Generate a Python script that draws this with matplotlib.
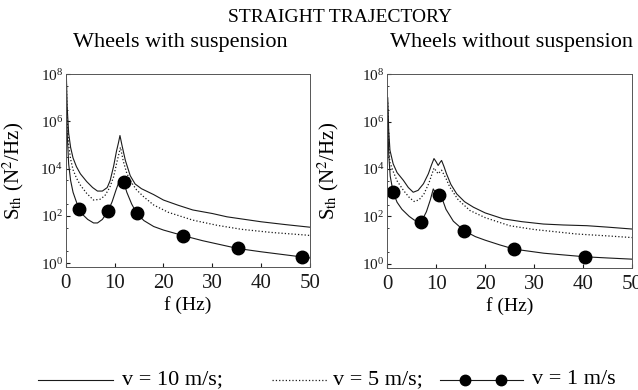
import numpy as np
import matplotlib
matplotlib.use('Agg')
import matplotlib.pyplot as plt
from matplotlib.lines import Line2D

plt.rcParams['font.family'] = ['Liberation Serif', 'DejaVu Serif']
plt.rcParams['mathtext.fontset'] = 'stix'

# ---- 有悬挂 (wheels with suspension), log10(S) 读数
f_l10 = [0.1, 0.3, 0.6, 1.0, 1.5, 2.2, 3.0, 4.3, 5.5, 6.5, 7.5, 8.5, 9.1, 9.8, 10.4, 10.8,
         11.1, 11.5, 12.2, 13.2, 14.2, 15.5, 18, 20, 23, 26, 30, 33, 36, 40, 45, 50]
log_l10 = [8.2, 6.6, 5.5, 4.9, 4.45, 4.08, 3.78, 3.45, 3.2, 3.05, 3.05, 3.2, 3.5, 4.1, 4.75, 5.1,
           5.4, 5.0, 4.35, 3.7, 3.35, 3.15, 2.9, 2.67, 2.45, 2.25, 2.1, 1.96, 1.87, 1.75, 1.63, 1.52]

f_l5 = [0.1, 0.3, 0.6, 1.0, 1.5, 2.2, 3.0, 4.3, 5.7, 7.0, 8.0, 9.0, 9.8, 10.5, 11.2, 11.8,
        12.5, 13.5, 14.5, 16, 18, 21, 26, 31, 36, 42, 49, 50]
log_l5 = [8.0, 6.2, 5.0, 4.4, 3.95, 3.6, 3.3, 2.95, 2.67, 2.7, 2.85, 3.2, 3.65, 4.3, 4.9, 4.3,
          3.8, 3.4, 3.1, 2.8, 2.46, 2.15, 1.82, 1.6, 1.43, 1.3, 1.19, 1.17]

f_l1 = [0.1, 0.3, 0.6, 1.0, 1.5, 2.0, 2.7, 3.5, 4.5, 5.7, 6.5, 7.5, 8.7, 9.5, 10.3, 11.0,
        11.5, 11.9, 12.5, 13.5, 14.5, 16, 18, 20, 24.1, 28, 35.2, 40, 48.4, 50]
log_l1 = [7.0, 5.5, 4.2, 3.5, 3.0, 2.7, 2.3, 2.05, 1.85, 1.7, 1.7, 1.85, 2.22, 2.6, 3.1, 3.5,
          3.6, 3.42, 3.0, 2.5, 2.12, 1.8, 1.55, 1.4, 1.16, 0.95, 0.62, 0.48, 0.26, 0.22]
f_l1_dots = [2.7, 8.7, 11.9, 14.5, 24.1, 35.2, 48.4]
log_l1_dots = [2.29, 2.22, 3.42, 2.12, 1.16, 0.62, 0.26]

# ---- 无悬挂 (wheels without suspension)
f_r10 = [0.1, 0.3, 0.55, 1.2, 2.0, 3.3, 4.3, 5.3, 6.3, 7.4, 8.4, 9.0, 9.55, 10.0, 10.4, 10.8,
         11.1, 11.6, 12.1, 13.0, 14.2, 15.8, 17.6, 20, 23.7, 27.5, 31.9, 36, 40.8, 45, 50]
log_r10 = [7.0, 5.6, 4.79, 4.22, 3.85, 3.52, 3.22, 3.02, 3.1, 3.38, 3.8, 4.15, 4.44, 4.3, 4.15, 4.28,
           4.36, 4.1, 3.8, 3.35, 2.95, 2.62, 2.39, 2.15, 1.9, 1.78, 1.68, 1.64, 1.61, 1.55, 1.47]

f_r5 = [0.1, 0.3, 0.5, 1.2, 2.0, 3.3, 4.5, 5.5, 6.5, 7.5, 8.5, 9.55, 10.4, 11.1, 12.0, 12.8,
        14.5, 16.9, 20, 25, 30, 38.7, 45, 50]
log_r5 = [6.8, 5.2, 4.3, 3.9, 3.5, 3.1, 2.8, 2.63, 2.7, 2.95, 3.4, 4.04, 3.8, 3.95, 3.6, 3.23,
          2.7, 2.25, 1.95, 1.61, 1.45, 1.26, 1.18, 1.11]

f_r1 = [0.1, 0.3, 0.6, 1.2, 2.0, 3.0, 4.5, 5.5, 6.9, 8.0, 8.8, 9.4, 10.0, 10.6, 11.3, 12.0,
        13.5, 15.7, 18, 20, 23, 26, 32, 40.4, 45, 50]
log_r1 = [6.0, 4.6, 3.7, 3.02, 2.6, 2.3, 2.0, 1.85, 1.75, 2.2, 2.7, 3.16, 2.95, 2.91, 2.7, 2.3,
          1.8, 1.4, 1.15, 1.0, 0.8, 0.62, 0.45, 0.3, 0.25, 0.2]
f_r1_dots = [1.2, 6.9, 10.6, 15.7, 26.0, 40.4]
log_r1_dots = [3.02, 1.75, 2.91, 1.4, 0.62, 0.3]

xticks = [0, 10, 20, 30, 40, 50]
yticks = [1e0, 1e2, 1e4, 1e6, 1e8]

LC = '#1a1a1a'

fig = plt.figure(figsize=(6.38, 3.9), dpi=100)
ax_l = fig.add_axes([0.103, 0.315, 0.383, 0.495])
ax_r = fig.add_axes([0.607, 0.313, 0.3835, 0.497])

panels = [
    (ax_l, f_l10, log_l10, f_l5, log_l5, f_l1, log_l1, f_l1_dots, log_l1_dots, -0.163),
    (ax_r, f_r10, log_r10, f_r5, log_r5, f_r1, log_r1, f_r1_dots, log_r1_dots, -0.19),
]
for ax, fa, la, fb, lb, fc, lc, fd, ld, lx in panels:
    ax.semilogy(fa, 10 ** np.array(la), '-', color=LC, lw=0.8)
    ax.semilogy(fb, 10 ** np.array(lb), ':', color=LC, lw=0.9)
    ax.semilogy(fc, 10 ** np.array(lc), '-', color=LC, lw=0.8)
    ax.semilogy(fd, 10 ** np.array(ld), 'o', color='black', ms=9, ls='none')
    ax.set_xlim(0, 50)
    ax.set_ylim(10 ** -0.17, 1e8)
    ax.set_xticks(xticks)
    ax.set_yticks(yticks)
    ax.tick_params(axis='both', which='both', direction='in', colors=LC)
    ax.tick_params(axis='x', labelsize=15, length=3, pad=5)
    ax.tick_params(axis='y', which='major', labelsize=11, length=3, pad=2)
    ax.tick_params(axis='y', which='minor', length=1.5)
    ax.yaxis.set_minor_locator(matplotlib.ticker.LogLocator(base=10, subs=[10 ** 0.5], numticks=20))
    ax.yaxis.set_minor_formatter(matplotlib.ticker.NullFormatter())
    for s in ax.spines.values():
        s.set_linewidth(0.7)
        s.set_color('#555555')
    ax.set_ylabel(r'S$_{\mathrm{th}}$ (N$^2$/Hz)', fontsize=15)
    ax.yaxis.set_label_coords(lx, 0.5)
    ax.set_xlabel('f (Hz)', fontsize=14, labelpad=2)

fig.text(340 / 638, 1 - 18 / 390, 'STRAIGHT TRAJECTORY', ha='center', va='center', fontsize=14)
fig.text(180 / 638, 1 - 43 / 390, 'Wheels with suspension', ha='center', va='center', fontsize=16)
fig.text(511 / 638, 1 - 43 / 390, 'Wheels without suspension', ha='center', va='center', fontsize=16)

# 图例 (手动绘制)
ly = 1 - 380 / 390
fig.add_artist(Line2D([38 / 638, 113 / 638], [ly, ly], transform=fig.transFigure, color=LC, lw=0.8))
fig.text(122 / 638, ly, 'v = 10 m/s;', ha='left', va='center', fontsize=16)
fig.add_artist(Line2D([272 / 638, 327 / 638], [ly, ly], transform=fig.transFigure, color=LC, lw=0.9, ls=':'))
fig.text(333 / 638, ly, 'v = 5 m/s;', ha='left', va='center', fontsize=16)
fig.add_artist(Line2D([440 / 638, 523 / 638], [ly, ly], transform=fig.transFigure, color=LC, lw=0.8))
fig.add_artist(Line2D([465 / 638, 501 / 638], [ly, ly], transform=fig.transFigure, color='black',
                      marker='o', ms=7.5, ls='none'))
fig.text(532 / 638, ly, 'v = 1 m/s', ha='left', va='center', fontsize=16)

fig.savefig('out.png', dpi=100)
